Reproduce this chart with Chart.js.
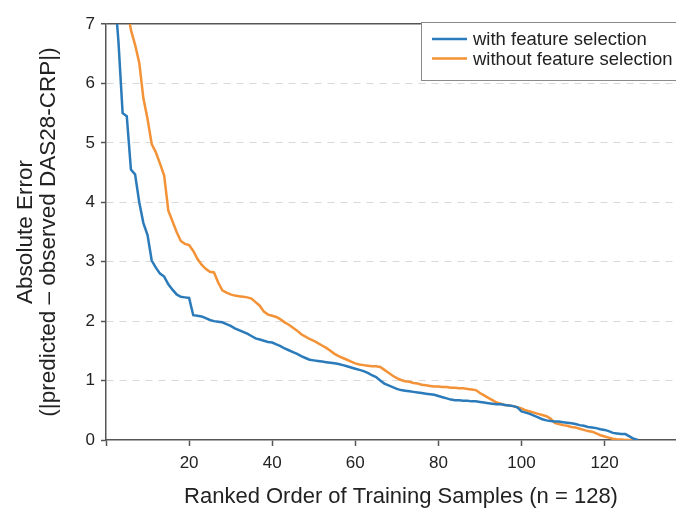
<!DOCTYPE html>
<html>
<head>
<meta charset="utf-8">
<script src="https://cdn.jsdelivr.net/npm/chart.js@4.4.0/dist/chart.umd.min.js"></script>
<style>
  html, body { margin: 0; padding: 0; background: #fff; overflow: hidden; }
  /* the original figure is cropped on the right, so the canvas runs past the window */
  #wrap { width: 696px; height: 511px; }
</style>
</head>
<body>
<div id="wrap"><canvas id="errChart"></canvas></div>
<script>
var ranks = [1,2,3,4,5,6,7,8,9,10,11,12,13,14,15,16,17,18,19,20,
  21,22,23,24,25,26,27,28,29,30,31,32,33,34,35,36,37,38,39,40,
  41,42,43,44,45,46,47,48,49,50,51,52,53,54,55,56,57,58,59,60,
  61,62,63,64,65,66,67,68,69,70,71,72,73,74,75,76,77,78,79,80,
  81,82,83,84,85,86,87,88,89,90,91,92,93,94,95,96,97,98,99,100,
  101,102,103,104,105,106,107,108,109,110,111,112,113,114,115,116,117,118,119,120,
  121,122,123,124,125,126,127,128];

var withSelection = [9.5,7.6,6.7,5.5,5.45,4.55,4.47,4.0,3.65,3.45,
  3.02,2.9,2.8,2.75,2.62,2.53,2.45,2.41,2.40,2.39,
  2.10,2.09,2.08,2.05,2.02,2.00,1.99,1.98,1.95,1.92,
  1.88,1.85,1.82,1.79,1.75,1.71,1.69,1.67,1.65,1.64,
  1.61,1.58,1.54,1.51,1.48,1.45,1.41,1.38,1.35,1.34,
  1.33,1.32,1.31,1.30,1.29,1.28,1.26,1.24,1.22,1.20,
  1.18,1.16,1.13,1.09,1.06,1.00,0.95,0.92,0.89,0.86,
  0.84,0.83,0.82,0.81,0.80,0.79,0.78,0.77,0.76,0.74,
  0.72,0.70,0.68,0.67,0.67,0.66,0.66,0.65,0.65,0.64,
  0.63,0.62,0.61,0.60,0.60,0.59,0.58,0.57,0.55,0.48,
  0.46,0.44,0.41,0.38,0.35,0.33,0.32,0.31,0.31,0.30,
  0.29,0.28,0.27,0.25,0.24,0.22,0.21,0.20,0.18,0.17,
  0.15,0.12,0.11,0.10,0.10,0.06,0.02,0.00];

var withoutSelection = [11.0,9.5,8.6,7.8,7.3,6.9,6.65,6.35,5.75,5.4,
  4.98,4.84,4.65,4.45,3.86,3.68,3.50,3.35,3.30,3.28,
  3.18,3.05,2.95,2.88,2.83,2.82,2.65,2.52,2.48,2.45,
  2.43,2.42,2.41,2.40,2.38,2.32,2.26,2.16,2.11,2.09,
  2.07,2.03,1.98,1.94,1.89,1.84,1.78,1.74,1.70,1.67,
  1.63,1.59,1.55,1.50,1.45,1.41,1.38,1.35,1.32,1.29,
  1.27,1.26,1.25,1.24,1.24,1.23,1.18,1.13,1.08,1.04,
  1.01,0.99,0.98,0.96,0.95,0.93,0.92,0.91,0.90,0.90,
  0.89,0.89,0.88,0.88,0.87,0.87,0.86,0.85,0.84,0.79,
  0.75,0.71,0.67,0.63,0.61,0.59,0.58,0.57,0.55,0.53,
  0.50,0.48,0.46,0.44,0.42,0.40,0.36,0.29,0.27,0.25,
  0.24,0.22,0.21,0.19,0.17,0.15,0.14,0.11,0.08,0.06,
  0.04,0.02,0.01,0.01,0.00,0.00,0.00,0.00];

var seriesNames = ['with feature selection', 'without feature selection'];
var seriesColors = ['#2b7bba', '#f39237'];
var xTicks = [0, 20, 40, 60, 80, 100, 120];
var yTicks = [0, 1, 2, 3, 4, 5, 6, 7];

function toPoints(vals) {
  return ranks.map(function(r, i) { return { x: r, y: vals[i] }; });
}

var fontFamily = '"Liberation Sans", Arial, Helvetica, sans-serif';

// legend box drawn inside the plot, top right
var insideLegend = {
  id: 'insideLegend',
  afterDraw: function(chart) {
    var ctx = chart.ctx;
    var x0 = 421, y0 = 22;
    ctx.save();
    ctx.fillStyle = '#fff';
    ctx.fillRect(x0, y0, 270, 59);
    ctx.strokeStyle = '#8a8a8a';
    ctx.lineWidth = 1;
    ctx.strokeRect(x0 + 0.5, y0 + 0.5, 270, 58);
    ctx.font = '18.5px ' + fontFamily;
    ctx.textBaseline = 'middle';
    chart.data.datasets.forEach(function(ds, i) {
      var yy = y0 + 17 + i * 19.5;
      ctx.strokeStyle = ds.borderColor;
      ctx.lineWidth = 2.5;
      ctx.beginPath();
      ctx.moveTo(432, yy);
      ctx.lineTo(467, yy);
      ctx.stroke();
      ctx.fillStyle = '#222';
      ctx.fillText(ds.label, 473, yy + 1);
    });
    ctx.restore();
  }
};

var ctxErr = document.getElementById('errChart').getContext('2d');
var errChart = new Chart(ctxErr, {
  type: 'line',
  data: {
    datasets: [{
      label: seriesNames[0],
      data: toPoints(withSelection),
      borderColor: seriesColors[0],
      borderWidth: 2.5,
      pointRadius: 0,
      tension: 0
    }, {
      label: seriesNames[1],
      data: toPoints(withoutSelection),
      borderColor: seriesColors[1],
      borderWidth: 2.5,
      pointRadius: 0,
      tension: 0
    }]
  },
  options: {
    responsive: true,
    maintainAspectRatio: false,
    animation: false,
    layout: { padding: { top: 24, right: 0, left: 0, bottom: 0 } },
    plugins: {
      legend: { display: false },
      tooltip: { enabled: false }
    },
    scales: {
      x: {
        type: 'linear',
        min: 0,
        max: 142,
        afterBuildTicks: function(scale) {
          scale.ticks = xTicks.map(function(v) { return { value: v }; });
        },
        afterFit: function(scale) { scale.height = 71; },
        grid: { drawOnChartArea: false, tickLength: 6, tickColor: '#555', tickWidth: 1.5 },
        border: { color: '#555', width: 1.5 },
        ticks: {
          color: '#222',
          font: { family: fontFamily, size: 17 },
          padding: 7,
          maxRotation: 0,
          autoSkip: false,
          callback: function(v) { return v === 0 ? '' : v; }
        },
        title: {
          display: true,
          text: 'Ranked Order of Training Samples (n = 128)',
          color: '#222',
          font: { family: fontFamily, size: 22 },
          padding: { top: 0, bottom: 1 }
        }
      },
      y: {
        min: 0,
        max: 7,
        afterBuildTicks: function(scale) {
          scale.ticks = yTicks.map(function(v) { return { value: v }; });
        },
        afterFit: function(scale) { scale.width = 106; },
        grid: {
          color: function(c) {
            if (c.tick.value === 7) return '#555';
            if (c.tick.value === 0) return 'rgba(0,0,0,0)';
            return '#d9d9d9';
          },
          lineWidth: function(c) { return c.tick.value === 7 ? 1.5 : 1; },
          tickLength: 5,
          tickColor: '#555',
          tickWidth: 1.5
        },
        border: {
          color: '#555',
          width: 1.5,
          dash: function(c) { return (c.tick && c.tick.value !== 7) ? [7, 6] : []; }
        },
        ticks: {
          color: '#222',
          font: { family: fontFamily, size: 17 },
          padding: 6
        },
        title: {
          display: true,
          text: ['Absolute Error', '(|predicted \u2013 observed DAS28-CRP|)'],
          color: '#222',
          font: { family: fontFamily, size: 22.5, lineHeight: 1 },
          padding: { top: 15, bottom: 0 }
        }
      }
    }
  },
  plugins: [insideLegend]
});
</script>
</body>
</html>
